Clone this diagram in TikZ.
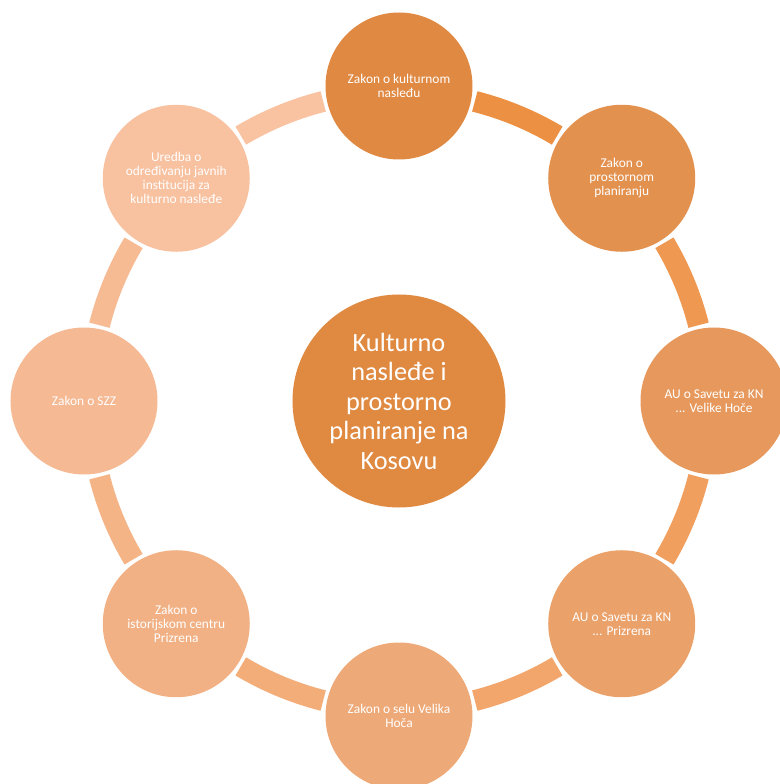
\documentclass[tikz,border=0pt]{standalone}
\usepackage{fontspec}
\setmainfont{Carlito}
\definecolor{ccol}{RGB}{223,137,65}
\definecolor{i1}{RGB}{224,137,66}
\definecolor{i2}{RGB}{227,145,79}
\definecolor{i3}{RGB}{231,153,93}
\definecolor{i4}{RGB}{234,161,106}
\definecolor{i5}{RGB}{238,169,120}
\definecolor{i6}{RGB}{241,177,133}
\definecolor{i7}{RGB}{245,185,147}
\definecolor{i8}{RGB}{248,193,160}
\definecolor{j1}{RGB}{236,145,68}
\definecolor{j2}{RGB}{238,152,81}
\definecolor{j3}{RGB}{240,159,95}
\definecolor{j4}{RGB}{242,166,108}
\definecolor{j5}{RGB}{243,173,121}
\definecolor{j6}{RGB}{245,180,134}
\definecolor{j7}{RGB}{247,187,148}
\definecolor{j8}{RGB}{249,194,161}
\begin{document}
\begin{tikzpicture}[x=1pt,y=1pt,
  outer/.style={circle, minimum size=147pt, inner sep=0pt, text=white,
    font=\fontsize{13.4}{14}\selectfont, align=center},
  hub/.style={circle, minimum size=213pt, inner sep=0pt, text=white,
    font=\fontsize{26.3}{29.5}\selectfont, align=center},
  band/.style={line width=21pt, line cap=butt}]
\useasboundingbox (-399,-383) rectangle (380,401);
% connectors (arcs of the cycle)
\foreach \k/\col in {1/j1,2/j2,3/j3,4/j4,5/j5,6/j6,7/j7,8/j8}{
  \pgfmathsetmacro{\ta}{90-45*(\k-1)-14.2}
  \pgfmathsetmacro{\tb}{90-45*\k+14.2}
  \draw[band, draw=\col] (\ta:309) arc[start angle=\ta, end angle=\tb, radius=309];
}
% hub
\node[hub, fill=ccol] (c) at (0,0) {Kulturno\\nasleđe i\\prostorno\\planiranje na\\Kosovu};
% outer nodes
\node[outer, fill=i1] (n1) at (90:315) {Zakon o kulturnom\\nasleđu};
\node[outer, fill=i2] (n2) at (45:315) {Zakon o\\prostornom\\planiranju};
\node[outer, fill=i3] (n3) at (0:315) {AU o Savetu za KN\\... Velike Hoče};
\node[outer, fill=i4] (n4) at (-45:315) {AU o Savetu za KN\\... Prizrena};
\node[outer, fill=i5] (n5) at (-90:315) {Zakon o selu Velika\\Hoča};
\node[outer, fill=i6] (n6) at (-135:315) {Zakon o\\istorijskom centru\\Prizrena};
\node[outer, fill=i7] (n7) at (180:315) {Zakon o SZZ};
\node[outer, fill=i8] (n8) at (135:315) {Uredba o\\određivanju javnih\\institucija za\\kulturno nasleđe};
\end{tikzpicture}
\end{document}
